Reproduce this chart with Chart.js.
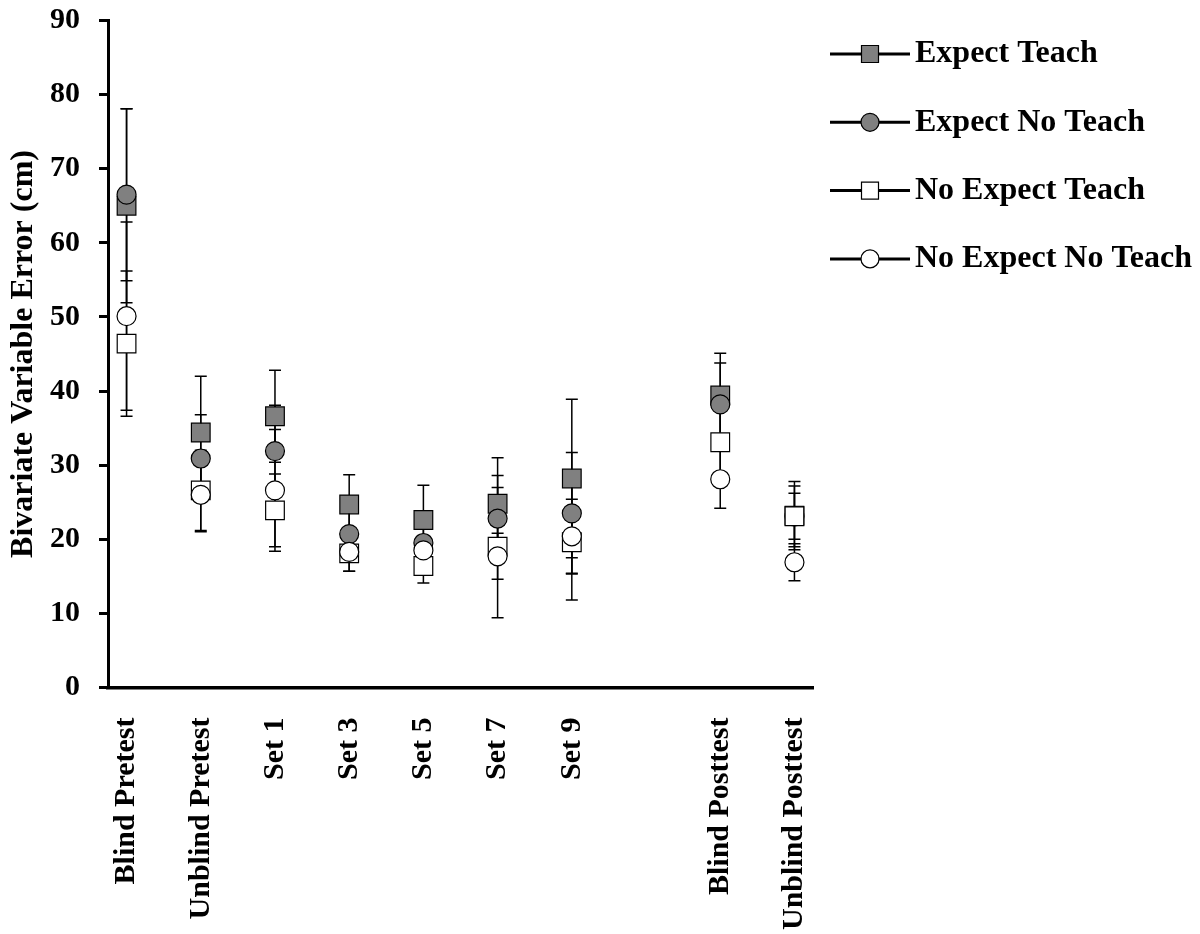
<!DOCTYPE html>
<html>
<head>
<meta charset="utf-8">
<title>Bivariate Variable Error</title>
<script src="https://cdn.jsdelivr.net/npm/chart.js@4.4.1/dist/chart.umd.min.js"></script>
<style>
  html, body { margin: 0; padding: 0; background: #ffffff; }
  #wrap { width: 1200px; height: 934px; position: relative; }
</style>
</head>
<body>
<div id="wrap"><canvas id="chart" width="1200" height="934"></canvas></div>
<script>
// Test phases along the x axis (the empty entry leaves a gap before the posttests)
const categories = ['Blind Pretest', 'Unblind Pretest', 'Set 1', 'Set 3', 'Set 5', 'Set 7', 'Set 9', '', 'Blind Posttest', 'Unblind Posttest'];

// Group names
const seriesNames = ['Expect Teach', 'Expect No Teach', 'No Expect Teach', 'No Expect No Teach'];

// Group means (cm)
const expectTeach     = [65.0, 34.4, 36.6, 24.7, 22.6, 24.8, 28.2, null, 39.4, 23.2];
const expectNoTeach   = [66.5, 30.9, 31.9, 20.7, 19.5, 22.8, 23.5, null, 38.2, 23.1];
const noExpectTeach   = [46.4, 26.6, 23.9, 18.1, 16.4, 19.0, 19.6, null, 33.1, 23.1];
const noExpectNoTeach = [50.1, 26.0, 26.6, 18.3, 18.5, 17.7, 20.4, null, 28.1, 16.9];

// Error bar half-lengths (cm)
const expectTeachErr     = [13.1, 7.6, 6.2, 4.0, 4.7, 6.2, 10.7, null, 5.7, 4.6];
const expectNoTeachErr   = [11.6, 5.9, 6.2, 3.0, 2.0, 4.2, 8.2, null, 5.6, 4.1];
const noExpectTeachErr   = [9.8, 5.4, 4.9, 2.4, 2.3, 9.6, 7.8, null, 4.5, 3.1];
const noExpectNoTeachErr = [12.7, 5.0, 8.2, 2.6, 2.0, 3.1, 5.0, null, 3.9, 2.5];

// Y axis tick values
const yTicks = [0, 10, 20, 30, 40, 50, 60, 70, 80, 90];

const FONT = '"Liberation Serif", "Times New Roman", Times, serif';
const GREY = '#808080';

function toPoints(values) {
  const pts = [];
  values.forEach((v, i) => { if (v !== null) pts.push({ x: i, y: v }); });
  return pts;
}
function toErrors(values, errs) {
  const out = [];
  values.forEach((v, i) => { if (v !== null) out.push(errs[i]); });
  return out;
}

const seriesValues = [expectTeach, expectNoTeach, noExpectTeach, noExpectNoTeach];
const seriesErrors = [expectTeachErr, expectNoTeachErr, noExpectTeachErr, noExpectNoTeachErr];
const seriesStyle = [
  { shape: 'rect',   fill: GREY,      radius: 13.2 },
  { shape: 'circle', fill: GREY,      radius: 9.5 },
  { shape: 'rect',   fill: '#ffffff', radius: 13.2 },
  { shape: 'circle', fill: '#ffffff', radius: 9.5 }
];

// Later groups are painted over earlier ones (higher order is drawn first)
const datasets = seriesNames.map((name, k) => ({
  label: name,
  order: seriesNames.length - k,
  data: toPoints(seriesValues[k]),
  errors: toErrors(seriesValues[k], seriesErrors[k]),
  showLine: false,
  pointStyle: seriesStyle[k].shape,
  pointRadius: seriesStyle[k].radius,
  pointHoverRadius: seriesStyle[k].radius,
  pointBackgroundColor: seriesStyle[k].fill,
  pointBorderColor: '#000000',
  pointBorderWidth: 1.2,
  borderColor: '#000000',
  backgroundColor: seriesStyle[k].fill
}));

// Vertical error bars with caps, drawn beneath every marker
const errorBars = {
  id: 'errorBars',
  beforeDatasetsDraw(chart) {
    const ctx = chart.ctx;
    const yScale = chart.scales.y;
    ctx.save();
    ctx.strokeStyle = '#000000';
    ctx.lineWidth = 1.5;
    chart.data.datasets.forEach((ds, di) => {
      const meta = chart.getDatasetMeta(di);
      meta.data.forEach((pt, i) => {
        const e = ds.errors[i];
        if (e === null || e === undefined) return;
        const v = ds.data[i].y;
        const x = pt.x;
        const yTop = yScale.getPixelForValue(v + e);
        const yBot = yScale.getPixelForValue(v - e);
        ctx.beginPath();
        ctx.moveTo(x, yTop); ctx.lineTo(x, yBot);
        ctx.moveTo(x - 6, yTop); ctx.lineTo(x + 6, yTop);
        ctx.moveTo(x - 6, yBot); ctx.lineTo(x + 6, yBot);
        ctx.stroke();
      });
    });
    ctx.restore();
  }
};

// Legend: line with marker, followed by the group name
const sideLegend = {
  id: 'sideLegend',
  afterDraw(chart) {
    const ctx = chart.ctx;
    const lineStart = 830, lineEnd = 910, markX = 870, textX = 915;
    const top = 54, step = 68.3;
    ctx.save();
    chart.data.datasets.forEach((ds, k) => {
      const y = top + k * step;
      ctx.strokeStyle = '#000000';
      ctx.lineWidth = 3;
      ctx.beginPath();
      ctx.moveTo(lineStart, y); ctx.lineTo(lineEnd, y);
      ctx.stroke();
      ctx.fillStyle = ds.pointBackgroundColor;
      ctx.lineWidth = 1.2;
      ctx.beginPath();
      if (ds.pointStyle === 'rect') {
        ctx.rect(markX - 8.5, y - 8.5, 17, 17);
      } else {
        ctx.arc(markX, y, 9, 0, Math.PI * 2);
      }
      ctx.fill();
      ctx.stroke();
      ctx.fillStyle = '#000000';
      ctx.font = 'bold 32px ' + FONT;
      ctx.textAlign = 'left';
      ctx.textBaseline = 'middle';
      ctx.fillText(ds.label, textX, y);
    });
    ctx.restore();
  }
};

new Chart(document.getElementById('chart'), {
  type: 'line',
  data: { datasets },
  plugins: [errorBars, sideLegend],
  options: {
    responsive: false,
    animation: false,
    devicePixelRatio: 1,
    layout: { padding: { top: 20.5, right: 387, bottom: 0, left: 0 } },
    plugins: {
      legend: { display: false },
      tooltip: { enabled: false }
    },
    scales: {
      x: {
        type: 'linear',
        min: -0.25,
        max: 9.25,
        afterBuildTicks(scale) { scale.ticks = categories.map((c, i) => ({ value: i })); },
        afterFit(scale) { scale.height = 246.5; scale.paddingLeft = 0; scale.paddingRight = 0; },
        grid: { display: false, drawTicks: false },
        border: { display: true, color: '#000000', width: 3.5 },
        ticks: {
          autoSkip: false,
          maxRotation: 90,
          minRotation: 90,
          padding: 30,
          color: '#000000',
          font: { family: FONT, size: 30, weight: 'bold' },
          callback: (v) => categories[v]
        }
      },
      y: {
        min: 0,
        max: 90,
        afterBuildTicks(scale) { scale.ticks = yTicks.map(v => ({ value: v })); },
        afterFit(scale) { scale.width = 108; scale.paddingTop = 18; scale.paddingBottom = 18; },
        grid: { drawOnChartArea: false, drawTicks: true, tickLength: 9, color: '#000000', lineWidth: 3 },
        border: { display: true, color: '#000000', width: 3 },
        ticks: {
          padding: 19,
          color: '#000000',
          font: { family: FONT, size: 30, weight: 'bold' }
        },
        title: {
          display: true,
          text: 'Bivariate Variable Error (cm)',
          color: '#000000',
          font: { family: FONT, size: 32, weight: 'bold' },
          padding: { top: 5, bottom: 0 }
        }
      }
    }
  }
});
</script>
</body>
</html>
